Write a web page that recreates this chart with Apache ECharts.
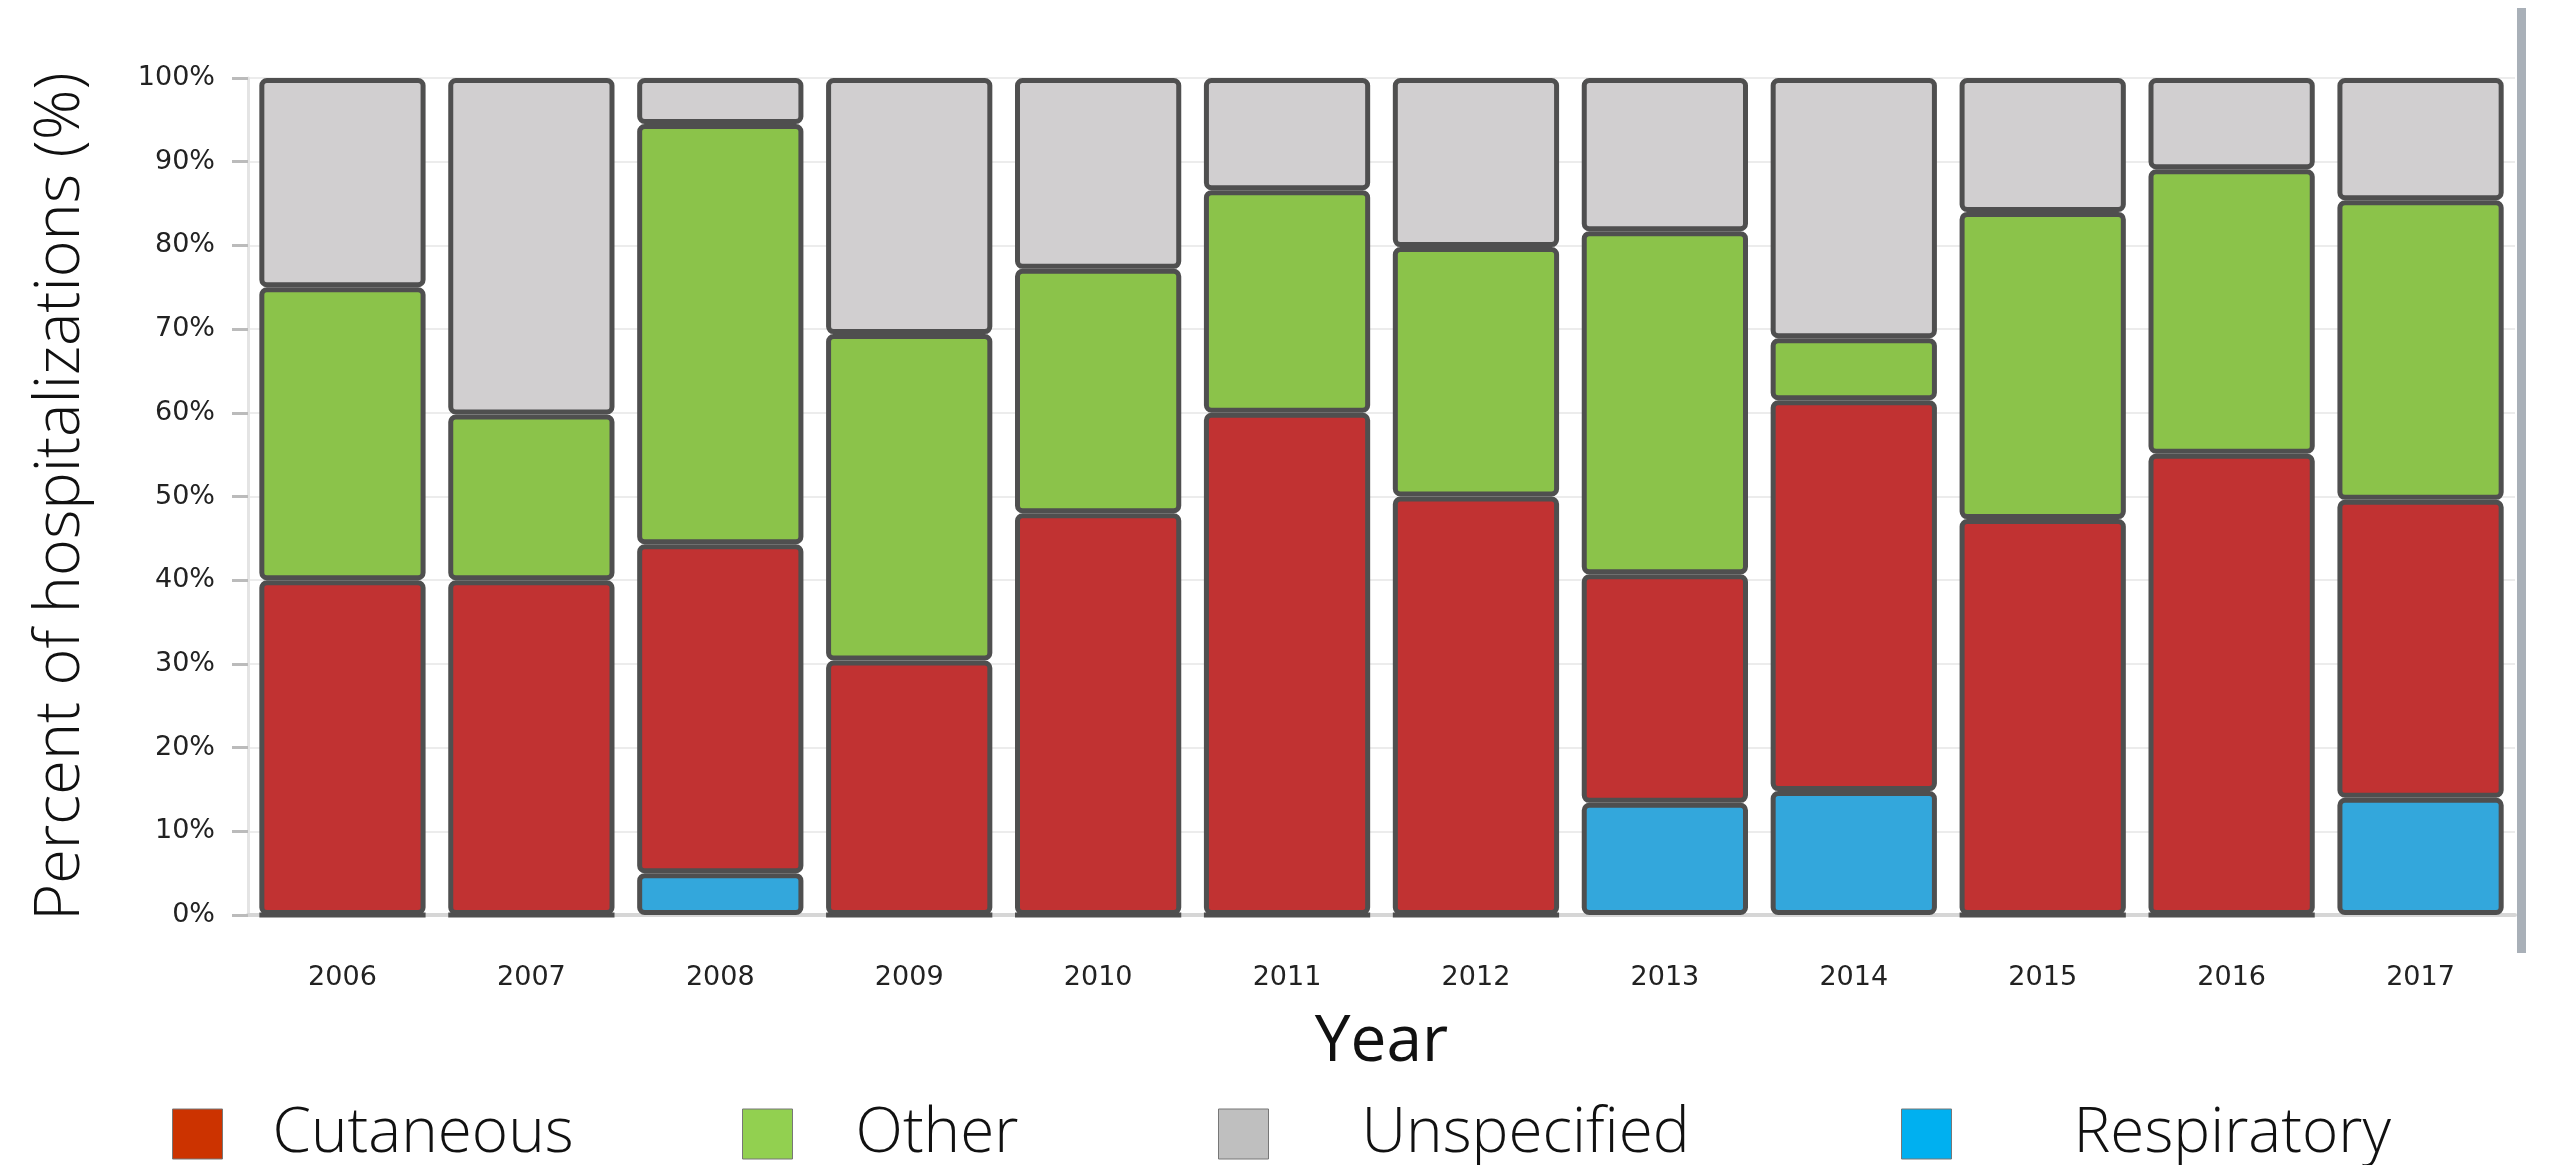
<!DOCTYPE html>
<html>
<head>
<meta charset="utf-8">
<script src="https://cdn.jsdelivr.net/npm/echarts@6/dist/echarts.min.js"></script>
<style>
  html, body { margin: 0; padding: 0; background: #fff; }
  #chart { width: 2552px; height: 1165px; }
</style>
</head>
<body>
<div id="chart"></div>
<script>
// Years on the x axis
const years = ['2006', '2007', '2008', '2009', '2010', '2011', '2012', '2013', '2014', '2015', '2016', '2017'];

// Percent of hospitalizations per year, by type
const respiratory = [0, 0, 5, 0, 0, 0, 0, 13.4, 14.8, 0, 0, 14];
const cutaneous = [40, 40, 39.3, 30.4, 48, 60, 50, 27.3, 46.7, 47.3, 55.1, 35.6];
const other = [35, 19.8, 50.2, 39, 29.2, 26.6, 29.8, 41, 7.4, 36.7, 34, 35.8];
const unspecified = [25, 40.2, 5.5, 30.6, 22.8, 13.4, 20.2, 18.3, 31.1, 16, 10.9, 14.6];

const yTicks = [0, 10, 20, 30, 40, 50, 60, 70, 80, 90, 100];

const chart = echarts.init(document.getElementById('chart'));

const barBorder = { borderColor: '#4f4f4f', borderWidth: 5, borderRadius: 5 };

// legend swatches use the brighter colours from the original key
const legendFont = { fontFamily: 'Open Sans', fontSize: 62, fontWeight: 300, color: '#111' };
const makeLegend = (name, left, color, gap) => ({
  data: [{ name: name, itemStyle: { color: color, borderColor: '#777', borderWidth: 1 } }],
  left: left,
  top: 1098,
  itemWidth: 50,
  itemHeight: 50,
  icon: 'rect',
  textStyle: Object.assign({ padding: [0, 0, 0, gap] }, legendFont)
});

const options = {
  animation: false,
  legend: [
    makeLegend('Cutaneous', 167, '#CC3300', 45),
    makeLegend('Other', 737, '#92D050', 58),
    makeLegend('Unspecified', 1213, '#BFBFBF', 88),
    makeLegend('Respiratory', 1896, '#00B0F0', 117)
  ],
  grid: { left: 248, right: 37, top: 78, bottom: 250 },
  xAxis: {
    type: 'category',
    data: years,
    name: 'Year',
    nameLocation: 'middle',
    nameGap: 96,
    nameTextStyle: { fontFamily: 'Open Sans', fontSize: 64, color: '#111' },
    axisLine: { lineStyle: { color: '#d6d6d6', width: 4 } },
    axisTick: { show: false },
    axisLabel: { fontFamily: 'DejaVu Sans', fontSize: 27, color: '#222', margin: 49 }
  },
  yAxis: {
    type: 'value',
    min: 0,
    max: 100,
    interval: 10,
    name: 'Percent of hospitalizations (%)',
    nameLocation: 'middle',
    nameGap: 155,
    nameTextStyle: { fontFamily: 'Open Sans', fontSize: 63, fontWeight: 300, color: '#111' },
    axisLine: { show: true, lineStyle: { color: '#e4e4e4', width: 3 } },
    axisTick: { show: true, length: 16, lineStyle: { color: '#bbbbbb', width: 3 } },
    axisLabel: {
      fontFamily: 'DejaVu Sans', fontSize: 27, color: '#222', margin: 33,
      formatter: v => (yTicks.includes(v) ? v + '%' : '')
    },
    splitLine: { show: true, lineStyle: { color: '#ececec', width: 2 } }
  },
  graphic: [
    // the grey frame edge on the right of the original figure
    { type: 'rect', right: 26, top: 8, shape: { width: 9, height: 945 }, style: { fill: '#a9b0b8' } }
  ],
  series: [
    { name: 'Respiratory', type: 'bar', stack: 'all', data: respiratory, barCategoryGap: '12%',
      itemStyle: Object.assign({ color: '#33A7DC' }, barBorder) },
    { name: 'Cutaneous', type: 'bar', stack: 'all', data: cutaneous,
      itemStyle: Object.assign({ color: '#C13232' }, barBorder) },
    { name: 'Other', type: 'bar', stack: 'all', data: other,
      itemStyle: Object.assign({ color: '#8BC34A' }, barBorder) },
    { name: 'Unspecified', type: 'bar', stack: 'all', data: unspecified,
      itemStyle: Object.assign({ color: '#D1CFD0' }, barBorder) }
  ]
};

chart.setOption(options);
</script>
</body>
</html>
